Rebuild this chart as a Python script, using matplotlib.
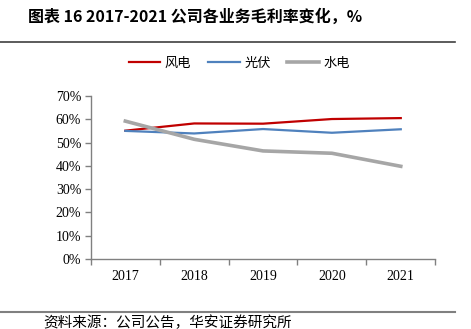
import matplotlib
matplotlib.use("Agg")
import matplotlib.pyplot as plt
import numpy as np

years = ["2017", "2018", "2019", "2020", "2021"]
wind = [55.1, 58.2, 58.1, 60.1, 60.5]
solar = [55.0, 53.9, 55.8, 54.2, 55.7]
hydro = [59.2, 51.4, 46.4, 45.4, 39.8]
yticks = [0, 10, 20, 30, 40, 50, 60, 70]

cjk = ["Noto Sans CJK SC", "DejaVu Sans"]
serif = ["Liberation Serif", "DejaVu Serif"]

fig = plt.figure(figsize=(4.71, 3.29), dpi=100)
ax = fig.add_axes([0.193, 0.2128, 0.731, 0.4955])

x = np.arange(len(years))
l1, = ax.plot(x, wind, color="#C00000", lw=1.6, label="风电")
l2, = ax.plot(x, solar, color="#4F81BD", lw=1.6, label="光伏")
l3, = ax.plot(x, hydro, color="#A6A6A6", lw=2.6, label="水电")

ax.set_xlim(-0.5, len(years) - 0.5)
ax.set_ylim(0, 70)
ax.set_yticks(yticks)
ax.set_yticklabels([f"{v}%" for v in yticks], fontfamily=serif, fontsize=10)
ax.set_xticks(x)
ax.set_xticklabels(years, fontfamily=serif, fontsize=10)
ax.tick_params(axis="x", which="major", length=0, pad=8)
ax.set_xticks(np.arange(-0.5, len(years), 1.0), minor=True)
ax.tick_params(axis="x", which="minor", length=4, color="#808080", width=1)
ax.tick_params(axis="y", length=4, color="#808080", width=1, pad=3)
for s in ["top", "right"]:
    ax.spines[s].set_visible(False)
for s in ["left", "bottom"]:
    ax.spines[s].set_color("#808080")
    ax.spines[s].set_linewidth(1)

fig.legend(handles=[l1, l2, l3], loc="center", bbox_to_anchor=(0.508, 0.808),
           ncol=3, frameon=False, prop={"family": cjk, "size": 9.5},
           handlelength=2.4, handletextpad=0.35, columnspacing=1.25)

fig.text(0.059, 0.951, "图表 16 2017-2021 公司各业务毛利率变化，%", fontfamily=cjk,
         fontsize=11.5, fontweight="bold", va="center", ha="left")
fig.add_artist(plt.Line2D([0, 0.966], [0.872, 0.872], color="#404040", lw=1.2))
fig.add_artist(plt.Line2D([0, 0.966], [0.052, 0.052], color="#808080", lw=1.5))
fig.text(0.091, 0.018, "资料来源：公司公告，华安证券研究所", fontfamily=cjk,
         fontsize=10.5, va="center", ha="left")

fig.savefig("out.png", dpi=100)
